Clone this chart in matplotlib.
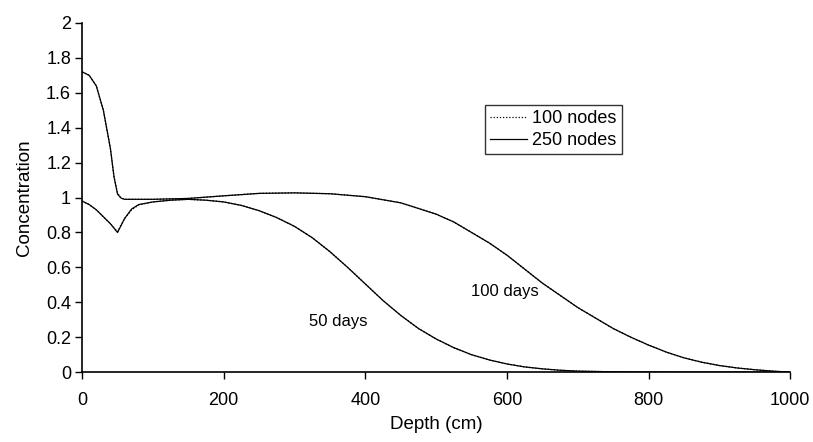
import numpy as np
import matplotlib.pyplot as plt
from matplotlib.ticker import FuncFormatter

plt.rcParams['font.family'] = ['Liberation Sans', 'DejaVu Sans']

# concentration profiles, 50 days
depth_50 = [0, 10, 20, 30, 40, 50, 60, 70, 80, 100, 125, 150, 175, 200, 225, 250, 275,
            300, 325, 350, 375, 400, 425, 450, 475, 500, 525, 550, 575, 600, 625, 650,
            675, 700, 750, 800, 850, 900, 950, 1000]
conc_50_n250 = [0.98, 0.96, 0.93, 0.89, 0.85, 0.80, 0.88, 0.935, 0.96, 0.975, 0.985, 0.99,
                0.985, 0.975, 0.955, 0.925, 0.885, 0.835, 0.77, 0.69, 0.60, 0.505, 0.41,
                0.325, 0.25, 0.19, 0.14, 0.10, 0.07, 0.047, 0.03, 0.019, 0.011, 0.006,
                0.002, 0.0005, 0.0, 0.0, 0.0, 0.0]
conc_50_n100 = [0.98, 0.96, 0.93, 0.89, 0.85, 0.805, 0.88, 0.93, 0.958, 0.975, 0.985, 0.99,
                0.985, 0.975, 0.955, 0.925, 0.885, 0.835, 0.77, 0.69, 0.60, 0.505, 0.41,
                0.325, 0.25, 0.19, 0.14, 0.10, 0.07, 0.047, 0.03, 0.019, 0.011, 0.006,
                0.002, 0.0005, 0.0, 0.0, 0.0, 0.0]

# concentration profiles, 100 days
depth_100 = [0, 10, 20, 30, 40, 45, 50, 55, 60, 80, 100, 150, 200, 250, 300, 350, 400, 450,
             500, 525, 550, 575, 600, 625, 650, 675, 700, 725, 750, 775, 800, 825, 850, 875,
             900, 925, 950, 975, 1000]
conc_100_n250 = [1.72, 1.70, 1.64, 1.50, 1.28, 1.12, 1.02, 0.997, 0.99, 0.99, 0.99, 0.995,
                 1.01, 1.024, 1.027, 1.022, 1.005, 0.97, 0.905, 0.86, 0.80, 0.74, 0.67,
                 0.59, 0.51, 0.44, 0.37, 0.31, 0.25, 0.20, 0.155, 0.115, 0.082, 0.057,
                 0.038, 0.024, 0.014, 0.006, 0.0]
conc_100_n100 = [1.72, 1.70, 1.64, 1.50, 1.28, 1.12, 1.025, 0.998, 0.99, 0.99, 0.99, 0.995,
                 1.01, 1.024, 1.027, 1.022, 1.005, 0.97, 0.905, 0.86, 0.80, 0.74, 0.67,
                 0.59, 0.51, 0.44, 0.37, 0.31, 0.25, 0.20, 0.155, 0.115, 0.082, 0.057,
                 0.038, 0.024, 0.014, 0.006, 0.0]

x_ticks = [0, 200, 400, 600, 800, 1000]
y_ticks = [0, 0.2, 0.4, 0.6, 0.8, 1, 1.2, 1.4, 1.6, 1.8, 2]

fig = plt.figure(figsize=(8.13, 4.42), dpi=100)
ax = fig.add_axes([0.101, 0.158, 0.871, 0.79])

lw = 0.9
ax.plot(depth_50, conc_50_n100, color='black', lw=lw, ls=(0, (1, 1.5)), label='100 nodes')
ax.plot(depth_50, conc_50_n250, color='black', lw=lw, label='250 nodes')
ax.plot(depth_100, conc_100_n100, color='black', lw=lw, ls=(0, (1, 1.5)))
ax.plot(depth_100, conc_100_n250, color='black', lw=lw)

ax.text(362, 0.29, '50 days', fontsize=12, ha='center', va='center')
ax.text(597, 0.46, '100 days', fontsize=12, ha='center', va='center')

ax.set_xlim(0, 1000)
ax.set_ylim(0, 2)
ax.set_xticks(x_ticks)
ax.set_yticks(y_ticks)
ax.yaxis.set_major_formatter(FuncFormatter(lambda v, p: '%g' % v))
ax.tick_params(direction='out', length=5, width=1, labelsize=13, pad=3)
ax.tick_params(axis='x', pad=9)
for s in ['top', 'right']:
    ax.spines[s].set_visible(False)
for s in ['left', 'bottom']:
    ax.spines[s].set_linewidth(1.2)

ax.set_xlabel('Depth (cm)', fontsize=13.5, labelpad=5)
ax.set_ylabel('Concentration', fontsize=13.5, labelpad=9)

leg = ax.legend(loc='upper left', bbox_to_anchor=(0.569, 0.765), frameon=True, fancybox=False,
                edgecolor='black', fontsize=13, handlelength=2.0, handletextpad=0.3,
                borderpad=0.3, labelspacing=0.25, borderaxespad=0)
leg.get_frame().set_linewidth(1.0)

fig.savefig('out.png', dpi=100)
